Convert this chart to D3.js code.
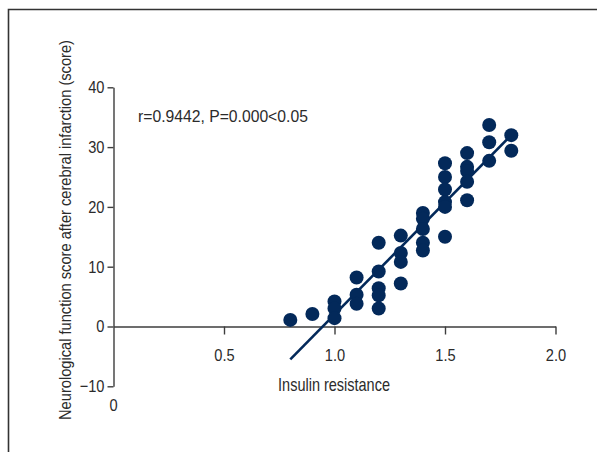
<!DOCTYPE html>
<html>
<head>
<meta charset="utf-8">
<script src="https://cdn.jsdelivr.net/npm/d3@7"></script>
<style>
  html, body { margin: 0; padding: 0; background: #fff; }
  svg { display: block; }
  text { font-family: "Liberation Sans", Arial, sans-serif; fill: #2b2b2b; }
</style>
</head>
<body>
<svg id="chart" width="597" height="452"></svg>
<script>
// ---- data ----
const insulinResistance = [
  0.8, 0.9,
  1.0, 1.0, 1.0,
  1.1, 1.1, 1.1,
  1.2, 1.2, 1.2, 1.2, 1.2,
  1.3, 1.3, 1.3, 1.3,
  1.4, 1.4, 1.4, 1.4, 1.4,
  1.5, 1.5, 1.5, 1.5, 1.5, 1.5,
  1.6, 1.6, 1.6, 1.6, 1.6,
  1.7, 1.7, 1.7,
  1.8, 1.8
];
const neuroScore = [
  1.1, 2.1,
  4.2, 3.0, 1.4,
  8.2, 5.3, 3.8,
  14.0, 9.2, 6.4, 5.2, 3.0,
  15.2, 12.3, 10.8, 7.2,
  19.0, 18.0, 16.3, 14.0, 12.7,
  27.3, 25.0, 22.9, 20.8, 20.0, 15.0,
  29.0, 26.7, 26.0, 24.2, 21.1,
  33.7, 30.8, 27.7,
  32.0, 29.4
];
const fitLineX = [0.8, 1.8];
const fitLineY = [-5.5, 32.0];
const xTicks = [0.5, 1.0, 1.5, 2.0];
const yTicks = [-10, 0, 10, 20, 30, 40];
const annotation = "r=0.9442, P=0.000<0.05";
const xTitle = "Insulin resistance";
const yTitle = "Neurological function score after cerebral infarction (score)";

// ---- drawing ----
const svg = d3.select("#chart");
const navy = "#03295a";
const axisColor = "#3d3d3d";
const condense = 0.86;

// frame (left and top edges)
svg.append("path")
  .attr("d", "M8.5,452 L8.5,9.5 L597,9.5")
  .attr("fill", "none").attr("stroke", "#333").attr("stroke-width", 1.6);

const x = d3.scaleLinear().domain([0, 2]).range([113.5, 555.5]);
const y = d3.scaleLinear().domain([-10, 40]).range([386.3, 87.3]);

const fontSize = 17;

// y axis
const yAxis = svg.append("g")
  .attr("transform", `translate(${x(0)},0)`)
  .call(d3.axisLeft(y).tickValues(yTicks).tickSize(6).tickSizeOuter(0).tickPadding(3)
    .tickFormat(d => d < 0 ? "\u2212" + Math.abs(d) : d));
// x axis at y=0
const xAxis = svg.append("g")
  .attr("transform", `translate(0,${y(0)})`)
  .call(d3.axisBottom(x).tickValues(xTicks).tickSize(8).tickSizeOuter(0).tickPadding(14)
    .tickFormat(d3.format(".1f")));

[yAxis, xAxis].forEach(g => {
  g.select(".domain").attr("stroke", axisColor).attr("stroke-width", 1.4);
  g.selectAll(".tick line").attr("stroke", axisColor).attr("stroke-width", 1.4);
  g.selectAll(".tick text").attr("fill", "#2b2b2b").style("font-size", fontSize + "px")
    .style("font-family", '"Liberation Sans", Arial, sans-serif');
});

// origin label under y axis
svg.append("text")
  .attr("x", x(0)).attr("y", 411)
  .attr("text-anchor", "middle")
  .style("font-size", fontSize + "px")
  .text("0");

// condense the simple texts (narrow font look)
svg.selectAll("text").each(function() {
  const w = this.getComputedTextLength();
  d3.select(this).attr("textLength", w * condense).attr("lengthAdjust", "spacingAndGlyphs");
});

// texts squeezed to a target width with a horizontal scale
function squeezed(str, tx, ty, rot, size, target, anchor) {
  const t = svg.append("text")
    .attr("text-anchor", anchor)
    .style("font-size", size + "px")
    .text(str);
  const natural = t.node().getComputedTextLength();
  const s = target / natural;
  t.attr("transform", `translate(${tx},${ty}) rotate(${rot}) scale(${s.toFixed(4)},1)`);
  return t;
}

squeezed(xTitle, 334, 391, 0, 17.5, 112, "middle");
squeezed(yTitle, 71, 230, -90, 17, 380, "middle");
squeezed(annotation, 138, 122, 0, 17, 170, "start");

// fit line
const line = d3.line().x(d => x(d[0])).y(d => y(d[1]));
svg.append("path")
  .datum(d3.zip(fitLineX, fitLineY))
  .attr("d", line)
  .attr("fill", "none")
  .attr("stroke", navy)
  .attr("stroke-width", 2.6);

// points
svg.append("g").selectAll("circle")
  .data(d3.zip(insulinResistance, neuroScore))
  .join("circle")
  .attr("cx", d => x(d[0]))
  .attr("cy", d => y(d[1]))
  .attr("r", 7)
  .attr("fill", navy);
</script>
</body>
</html>
